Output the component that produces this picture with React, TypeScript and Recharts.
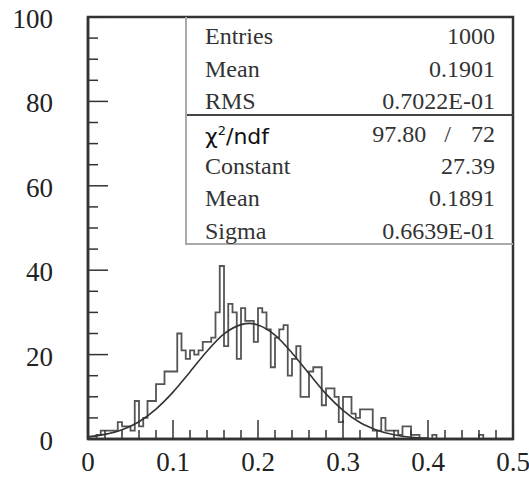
import { ComposedChart, Line, XAxis, YAxis, ReferenceArea } from "recharts";

// histogram: 100 bins of width 0.005 from 0 to 0.5
const binWidth = 0.005;
const counts = [
  0, 0, 1, 2, 2, 2, 2, 4, 3, 3,
  2, 9, 3, 5, 9, 9, 13, 13, 16, 16,
  16, 25, 21, 19, 21, 20, 21, 23, 23, 24,
  30, 41, 22, 32, 30, 19, 31, 28, 28, 23,
  31, 30, 26, 17, 24, 26, 27, 15, 19, 22,
  10, 10, 16, 17, 17, 8, 12, 12, 10, 4,
  10, 10, 6, 5, 7, 7, 7, 2, 2, 5,
  2, 2, 2, 1, 3, 3, 1, 1, 0, 0,
  0, 1, 0, 0, 0, 0, 0, 0, 0, 0,
  0, 0, 1, 0, 0, 0, 0, 0, 0, 0,
];

// gaussian fit curve
const fitX = [0, 0.02, 0.04, 0.06, 0.08, 0.1, 0.12, 0.14, 0.16, 0.18, 0.19, 0.2, 0.22, 0.24, 0.26, 0.28, 0.3, 0.32, 0.34, 0.36, 0.38, 0.4];
const fitY = [0.5, 1.1, 2.2, 4.1, 7.1, 11.1, 15.9, 20.8, 24.9, 27.1, 27.4, 27.0, 24.6, 20.4, 15.5, 10.7, 6.8, 3.9, 2.1, 1.0, 0.4, 0.2];

const xTicks = [0, 0.02, 0.04, 0.06, 0.08, 0.1, 0.12, 0.14, 0.16, 0.18, 0.2, 0.22, 0.24, 0.26, 0.28, 0.3, 0.32, 0.34, 0.36, 0.38, 0.4, 0.42, 0.44, 0.46, 0.48, 0.5];
const xLabels = ["0", "0.1", "0.2", "0.3", "0.4", "0.5"];
const yTicks = [0, 5, 10, 15, 20, 25, 30, 35, 40, 45, 50, 55, 60, 65, 70, 75, 80, 85, 90, 95, 100];
const yLabels = ["0", "20", "40", "60", "80", "100"];

const statsTop = [
  ["Entries", "1000"],
  ["Mean", "0.1901"],
  ["RMS", "0.7022E-01"],
];
const statsFit = [
  ["Constant", "27.39"],
  ["Mean", "0.1891"],
  ["Sigma", "0.6639E-01"],
];
const chi2 = "97.80";
const ndf = "72";

const histData = counts
  .map((c, i) => ({ x: +(i * binWidth).toFixed(3), count: c }))
  .concat([{ x: 0.5, count: counts[counts.length - 1] }]);
const fitData = fitX.map((x, i) => ({ x, y: fitY[i] }));

const axisFont = "'Liberation Serif', 'Times New Roman', serif";
const ink = "#333";

function XTick(props: any) {
  const { x, y, payload } = props;
  const v = payload.value;
  const label = xLabels.find((l) => Math.abs(parseFloat(l) - v) < 1e-6);
  return (
    <g>
      <line x1={x} y1={y} x2={x} y2={y - (label ? 19 : 9)} stroke={ink} strokeWidth={1.5} />
      {label && (
        <text x={x} y={y + 32} textAnchor="middle" fontFamily={axisFont} fontSize={27} fill="#222">
          {label}
        </text>
      )}
    </g>
  );
}

function YTick(props: any) {
  const { x, y, payload } = props;
  const v = payload.value;
  const label = yLabels.find((l) => +l === v);
  return (
    <g>
      <line x1={x} y1={y} x2={x + (label ? 20 : 10)} y2={y} stroke={ink} strokeWidth={1.5} />
      {label && (
        <text x={x - 35} y={y + 11} textAnchor="end" fontFamily={axisFont} fontSize={27} fill="#222">
          {label}
        </text>
      )}
    </g>
  );
}

const rowStyle: React.CSSProperties = {
  position: "absolute",
  left: 18,
  right: 18,
  height: 30,
  display: "flex",
  justifyContent: "space-between",
  alignItems: "center",
  fontFamily: axisFont,
  fontSize: 24,
  color: "#333",
  lineHeight: "30px",
};

export default function App() {
  const rowsY = [19, 52, 84, 117, 149, 181, 214];
  return (
    <div style={{ position: "absolute", left: 0, top: 0, width: 529, height: 477, background: "#fff" }}>
      <ComposedChart width={529} height={477} margin={{ top: 17, right: 16, left: 0, bottom: 0 }}>
        <XAxis
          dataKey="x"
          type="number"
          domain={[0, 0.5]}
          ticks={xTicks}
          interval={0}
          tick={<XTick />}
          tickLine={false}
          tickSize={0}
          tickMargin={0}
          height={38}
          axisLine={{ stroke: ink, strokeWidth: 2.5 }}
          allowDataOverflow
        />
        <YAxis
          type="number"
          domain={[0, 100]}
          ticks={yTicks}
          interval={0}
          tick={<YTick />}
          tickLine={false}
          tickSize={0}
          tickMargin={0}
          width={88}
          axisLine={{ stroke: ink, strokeWidth: 2.5 }}
          allowDataOverflow
        />
        <ReferenceArea x1={0} x2={0.5} y1={0} y2={100} fill="none" stroke={ink} strokeWidth={2.5} />
        <Line
          data={histData}
          dataKey="count"
          type="stepAfter"
          stroke="#555"
          strokeWidth={1.8}
          dot={false}
          isAnimationActive={false}
        />
        <Line
          data={fitData}
          dataKey="y"
          type="monotone"
          stroke="#333"
          strokeWidth={1.6}
          dot={false}
          isAnimationActive={false}
        />
      </ComposedChart>

      <div
        style={{
          position: "absolute",
          left: 185,
          top: 17,
          width: 328,
          height: 228,
          borderLeft: "2px solid #aaa",
          borderBottom: "2px solid #aaa",
          boxSizing: "border-box",
        }}
      >
        <div style={{ position: "absolute", left: 0, right: 0, top: 97, borderTop: "2px solid #444" }} />
        {statsTop.map(([k, v], i) => (
          <div key={"t" + i} style={{ ...rowStyle, top: rowsY[i] - 15 }}>
            <span>{k}</span>
            <span>{v}</span>
          </div>
        ))}
        <div style={{ ...rowStyle, top: rowsY[3] - 15 }}>
          <span style={{ fontFamily: "'DejaVu Sans', sans-serif", fontSize: 22, color: "#111" }}>
            χ<sup style={{ fontSize: 13, verticalAlign: "9px" }}>2</sup>/ndf
          </span>
          <span style={{ display: "flex", gap: 18 }}>
            <span>{chi2}</span>
            <span>/</span>
            <span style={{ minWidth: 26, textAlign: "right" }}>{ndf}</span>
          </span>
        </div>
        {statsFit.map(([k, v], i) => (
          <div key={"f" + i} style={{ ...rowStyle, top: rowsY[4 + i] - 15 }}>
            <span>{k}</span>
            <span>{v}</span>
          </div>
        ))}
      </div>
    </div>
  );
}
